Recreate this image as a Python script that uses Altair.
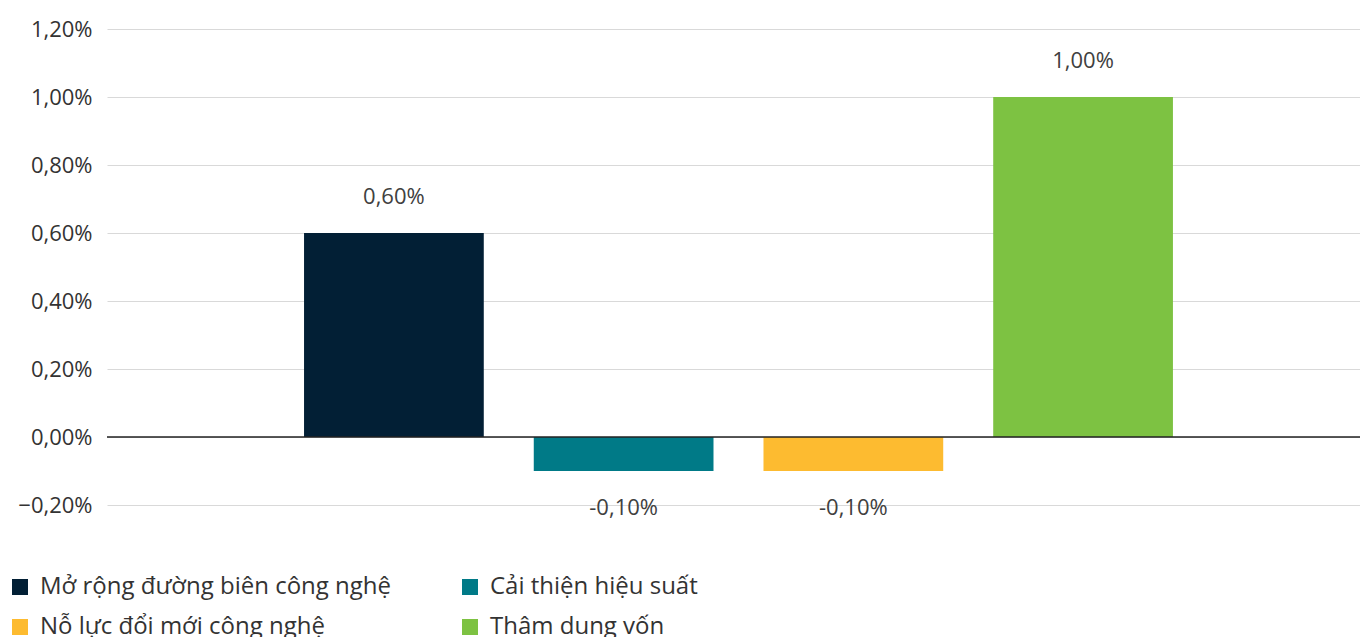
import altair as alt
import pandas as pd

categories = ["Mở rộng đường biên công nghệ", "Cải thiện hiệu suất", "Nỗ lực đổi mới công nghệ", "Thâm dung vốn"]
values = [0.60, -0.10, -0.10, 1.00]
colors = ["#021F35", "#007A87", "#FDBB30", "#7DC242"]
y_ticks = [-0.2, 0.0, 0.2, 0.4, 0.6, 0.8, 1.0, 1.2]

# legend fills column by column; order so rows read as in the reference
legend_order = [categories[0], categories[2], categories[1], categories[3]]
legend_colors = [colors[0], colors[2], colors[1], colors[3]]

df = pd.DataFrame({"cat": categories, "val": values})
df["label"] = [f"{v:.2f}".replace(".", ",") + "%" for v in values]

FONT = "Open Sans"

x = alt.X("cat:N", sort=categories, axis=None,
          scale=alt.Scale(paddingInner=0.2176, paddingOuter=0.836, align=0.513))
y_scale = alt.Scale(domain=[-0.2, 1.2], nice=False, zero=False)

bars = alt.Chart(df).mark_bar().encode(
    x=x,
    y=alt.Y("val:Q", scale=y_scale, title=None,
            axis=alt.Axis(values=y_ticks, grid=True, gridColor="#D9D9D9", gridWidth=1,
                          domain=False, ticks=False, labelPadding=15,
                          labelExpr="replace(format(datum.value, '.2f'), '.', ',') + '%'",
                          labelFont=FONT, labelFontSize=22, labelColor="#333333")),
    color=alt.Color("cat:N",
                    scale=alt.Scale(domain=legend_order, range=legend_colors),
                    legend=alt.Legend(title=None, orient="none", legendX=-99, legendY=546,
                                      columns=2, columnPadding=66, rowPadding=16,
                                      symbolType="square", symbolSize=256, symbolStrokeWidth=0,
                                      labelOffset=8, labelFont=FONT, labelFontSize=24,
                                      labelColor="#333333", labelLimit=600)),
)

zero = alt.Chart(pd.DataFrame({"z": [0.0]})).mark_rule(color="#222222", strokeWidth=1.5).encode(
    y=alt.Y("z:Q", scale=y_scale)
)

pos_labels = alt.Chart(df).transform_filter("datum.val >= 0").mark_text(
    dy=-36, font=FONT, fontSize=22, color="#404040"
).encode(x=x, y=alt.Y("val:Q", scale=y_scale), text="label:N")

neg_labels = alt.Chart(df).transform_filter("datum.val < 0").mark_text(
    dy=37, font=FONT, fontSize=22, color="#404040"
).encode(x=x, y=alt.Y("val:Q", scale=y_scale), text="label:N")

chart = alt.layer(bars, zero, pos_labels, neg_labels).properties(
    width=1253, height=476,
    autosize=alt.AutoSizeParams(type="none"),
    padding={"left": 107, "top": 29, "right": 0, "bottom": 132},
).configure_view(stroke=None)

chart.save("out.html", embed_options={"renderer": "svg", "actions": False})
